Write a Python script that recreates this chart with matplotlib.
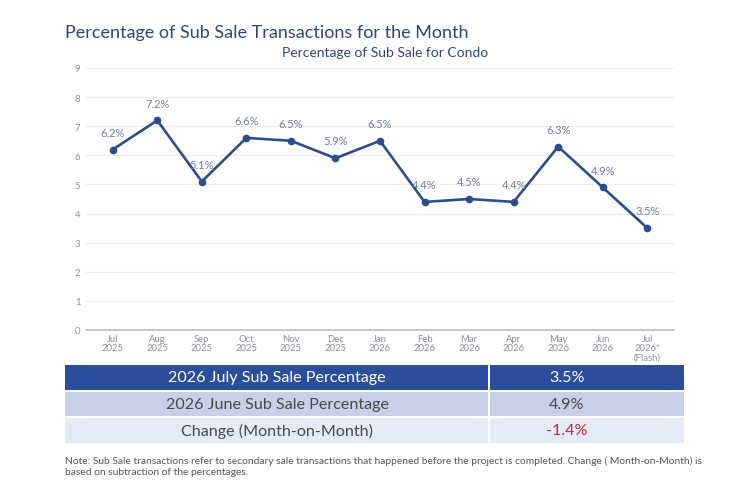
import matplotlib
matplotlib.use("Agg")
import matplotlib.pyplot as plt
from matplotlib.patches import Rectangle

# ---------------------------------------------------------------------------
# Data
# ---------------------------------------------------------------------------
months = ["Jul\n2025", "Aug\n2025", "Sep\n2025", "Oct\n2025", "Nov\n2025",
          "Dec\n2025", "Jan\n2026", "Feb\n2026", "Mar\n2026", "Apr\n2026",
          "May\n2026", "Jun\n2026", "Jul\n2026*\n(Flash)"]
sub_sale_pct = [6.2, 7.2, 5.1, 6.6, 6.5, 5.9, 6.5, 4.4, 4.5, 4.4, 6.3, 4.9, 3.5]

table_labels = ["2026 July Sub Sale Percentage",
                "2026 June Sub Sale Percentage",
                "Change (Month-on-Month)"]
table_values = ["3.5%", "4.9%", "-1.4%"]

LINE_COLOR = "#2d4e8e"
TITLE_COLOR = "#2f4677"
LABEL_COLOR = "#6f7d98"
TICK_COLOR = "#8a8f99"
ROW_COLORS = ["#2a4e9c", "#c6d0e7", "#e4eaf6"]
ROW_TEXT = ["white", "#4a4a4a", "#4a4a4a"]

plt.rcParams["font.family"] = ["Lato", "DejaVu Sans"]

fig = plt.figure(figsize=(7.5, 4.81), dpi=100)
W, H = 750, 481

def fx(px):
    return px / W

def fy(py):
    return 1 - py / H

ax = fig.add_axes([fx(86), fy(331), fx(674) - fx(86), fy(69) - fy(331)])
x = list(range(len(months)))
ax.plot(x, sub_sale_pct, color=LINE_COLOR, linewidth=1.9, marker="o",
        markersize=4.5, zorder=3)
for xi, v in zip(x, sub_sale_pct):
    ax.annotate(f"{v}%", (xi, v), xytext=(0, 8.5), textcoords="offset points",
                ha="center", va="bottom", fontsize=8, color=LABEL_COLOR)

ax.set_xlim(-0.6, len(months) - 0.4)
ax.set_ylim(0, 9)
ax.set_yticks(range(0, 10))
ax.set_xticks(x)
ax.set_xticklabels(months, fontsize=6.8, color=TICK_COLOR, linespacing=1.0)
ax.tick_params(axis="y", labelsize=6.8, labelcolor=TICK_COLOR, length=0, pad=4)
ax.tick_params(axis="x", length=0, pad=3)
ax.grid(axis="y", color="#ececec", linewidth=0.8)
ax.set_axisbelow(True)
for s in ["top", "right", "left"]:
    ax.spines[s].set_visible(False)
ax.spines["bottom"].set_color("#bdbdbd")
ax.spines["bottom"].set_linewidth(1.2)

# Titles
fig.text(fx(65), fy(33), "Percentage of Sub Sale Transactions for the Month",
         fontsize=13, color=TITLE_COLOR, va="center", ha="left")
fig.text(fx(385), fy(53), "Percentage of Sub Sale for Condo",
         fontsize=10, color=TITLE_COLOR, va="center", ha="center")

# Summary table
rows_y = [(366, 391), (393, 417), (419, 444)]
for i, (y0, y1) in enumerate(rows_y):
    fig.add_artist(Rectangle((fx(65), fy(y1)), fx(488) - fx(65), fy(y0) - fy(y1),
                             transform=fig.transFigure, color=ROW_COLORS[i], lw=0))
    fig.add_artist(Rectangle((fx(490), fy(y1)), fx(684) - fx(490), fy(y0) - fy(y1),
                             transform=fig.transFigure, color=ROW_COLORS[i], lw=0))
    ym = fy((y0 + y1) / 2)
    fig.text(fx(277), ym, table_labels[i], fontsize=11.6, color=ROW_TEXT[i],
             ha="center", va="center")
    val_color = ROW_TEXT[i]
    if table_values[i].startswith("-"):
        val_color = "#c8283a"
    fig.text(fx(567), ym, table_values[i], fontsize=11.6, color=val_color,
             ha="center", va="center")

fig.text(fx(65), fy(467),
         "Note: Sub Sale transactions refer to secondary sale transactions that happened "
         "before the project is completed. Change ( Month-on-Month) is\n"
         "based on subtraction of the percentages.",
         fontsize=7.4, color="#555555", ha="left", va="center", linespacing=1.35)

fig.savefig("out.png", dpi=100, facecolor="white")
